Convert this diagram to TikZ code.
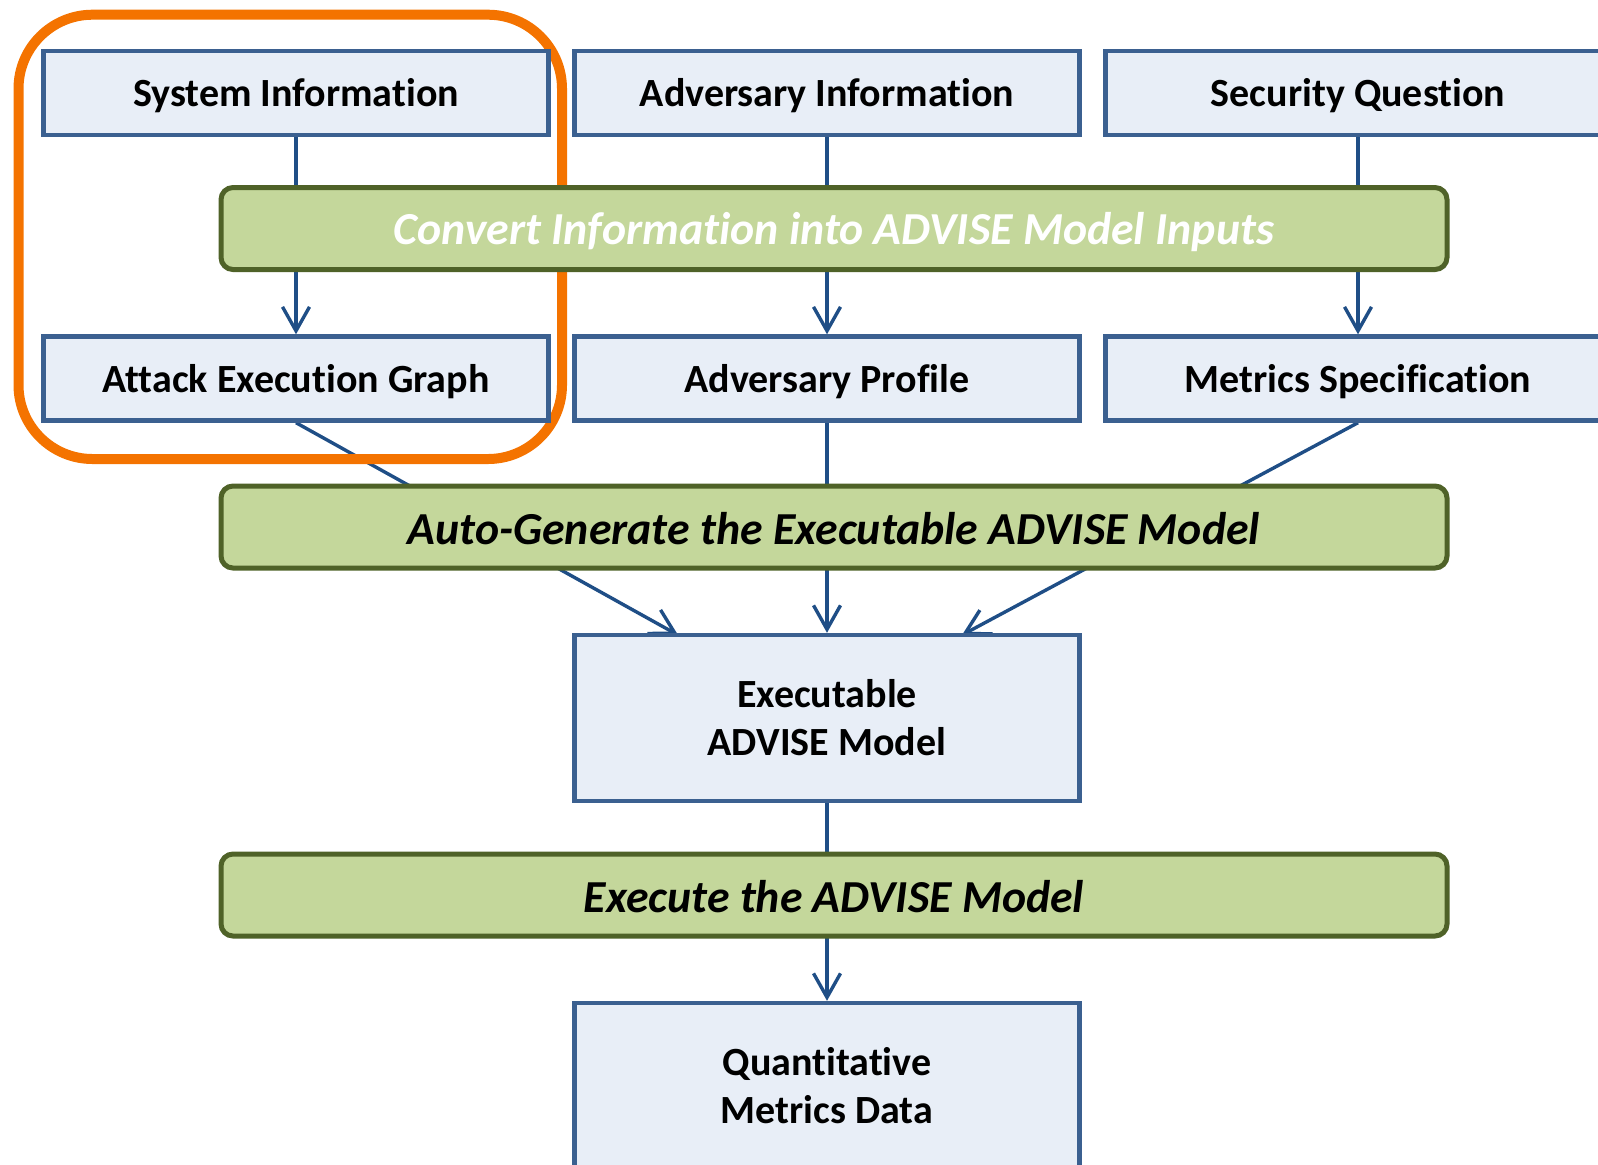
\documentclass[tikz,border=0pt]{standalone}
\usepackage{fontspec}
\setmainfont[Ligatures=NoCommon]{Carlito}
\usetikzlibrary{arrows.meta}
\pgfdeclarelayer{background}
\pgfsetlayers{background,main}
\definecolor{boxfill}{HTML}{E8EEF7}
\definecolor{boxline}{HTML}{3B6090}
\definecolor{arrline}{HTML}{1F4E86}
\definecolor{barfill}{HTML}{C4D79B}
\definecolor{barline}{HTML}{4F6228}
\definecolor{hl}{HTML}{F47300}
\newcommand\lowertext[2]{\raisebox{-#1}[\height][\depth]{#2}}
\begin{document}
\begin{tikzpicture}[x=0.5pt,y=-0.5pt,
  basebox/.style={draw=boxline, fill=boxfill, line width=2.2pt, minimum width=252.5pt,
    inner sep=0pt, align=center, font=\fontsize{20}{24}\selectfont\bfseries},
  box/.style={basebox, minimum height=42pt},
  tallbox/.style={basebox, minimum height=83pt},
  bar/.style={draw=barline, fill=barfill, line width=2.5pt, rounded corners=6pt,
    minimum width=613pt, minimum height=41pt, inner sep=0pt,
    font=\fontsize{22.9}{27}\selectfont\bfseries\itshape},
  conn/.style={draw=arrline, line width=1.7pt},
  arr/.style={conn, -{Straight Barb[length=12pt,width=13.5pt]}},
  hlframe/.style={draw=hl, line width=5pt, rounded corners=37pt}]
\useasboundingbox (0,0) rectangle (1598,1164);
\clip (0,0) rectangle (1598,1164);

\node[box] (si) at (296,93) {\lowertext{1.5pt}{System Information}};
\node[box] (ai) at (827,93) {\lowertext{1.5pt}{Adversary Information}};
\node[box] (sq) at (1358,93) {\lowertext{1.5pt}{Security Question}};
\node[bar, text=white] (conv) at (834,228.5) {\lowertext{2pt}{Convert Information into ADVISE Model Inputs}};
\node[box] (aeg) at (296,378.5) {\lowertext{1.5pt}{Attack Execution Graph}};
\node[box] (ap) at (827,378.5) {\lowertext{1.5pt}{Adversary Profile}};
\node[box] (ms) at (1358,378.5) {\lowertext{1.5pt}{Metrics Specification}};
\node[bar] (auto) at (834,527) {\lowertext{1pt}{Auto-Generate the Executable ADVISE Model}};
\node[tallbox] (exe) at (827,718) {Executable\\ADVISE Model};
\node[bar] (run) at (834,895) {\lowertext{1pt}{Execute the ADVISE Model}};
\node[tallbox] (qmd) at (827,1086) {Quantitative\\Metrics Data};

\coordinate (exL) at (678,635);
\coordinate (exR) at (962,635);

\begin{pgfonlayer}{background}
  \draw[arr] (si.south) -- (aeg.north);
  \draw[arr] (ai.south) -- (ap.north);
  \draw[arr] (sq.south) -- (ms.north);
  \draw[arr] (aeg.south) -- (exL);
  \draw[arr] (ap.south) -- (exe.north);
  \draw[arr] (ms.south) -- (exR);
  \draw[arr] (exe.south) -- (qmd.north);
  \draw[hlframe] (18.5,14.7) rectangle (562,459);
\end{pgfonlayer}
\end{tikzpicture}
\end{document}
